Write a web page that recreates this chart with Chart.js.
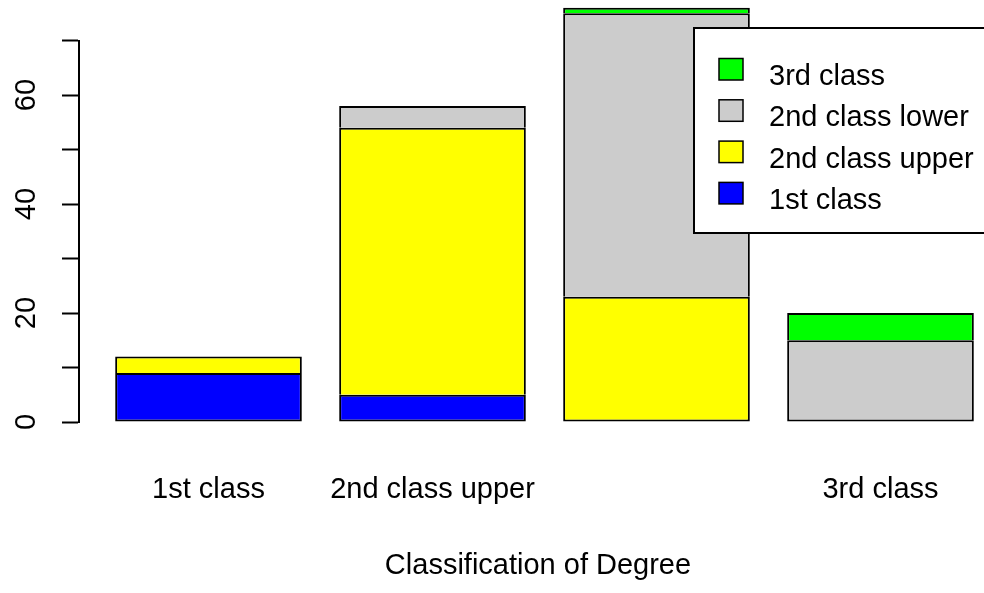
<!DOCTYPE html>
<html>
<head>
<meta charset="utf-8">
<script src="https://cdn.jsdelivr.net/npm/chart.js@4/dist/chart.umd.min.js"></script>
<style>
  html, body { margin: 0; padding: 0; background: #fff; overflow: hidden; }
  #wrap { width: 984px; height: 593px; overflow: hidden; }
</style>
</head>
<body>
<div id="wrap"><canvas id="c" width="997" height="593"></canvas></div>
<script>
// ---- data ----
const categories = ['1st class', '2nd class upper', '2nd class lower', '3rd class'];
const xTickLabels = ['1st class', '2nd class upper', '', '3rd class']; // R dropped the overlapping 3rd label
const seriesNames = ['1st class', '2nd class upper', '2nd class lower', '3rd class'];
const firstClass      = [9, 5, 0, 0];
const secondUpper     = [3, 49, 23, 0];
const secondLower     = [0, 4, 52, 15];
const thirdClass      = [0, 0, 1, 5];
const seriesColors = ['#0000FF', '#FFFF00', '#CCCCCC', '#00FF00'];
const yTickValues = [0, 10, 20, 30, 40, 50, 60, 70];
const yLabelled = [0, 20, 40, 60];
const xTitle = 'Classification of Degree';

const FONT = "'Liberation Sans', Arial, Helvetica, sans-serif";
const FS = 29;
const seriesValues = [firstClass, secondUpper, secondLower, thirdClass];

function lowestNonZero(idx) {
  for (let d = 0; d < seriesValues.length; d++) if (seriesValues[d][idx] !== 0) return d;
  return 0;
}

const datasets = seriesNames.map((name, d) => ({
  label: name,
  data: seriesValues[d].map((v, i) => ({ x: i + 1, y: v })),
  backgroundColor: seriesColors[d],
  borderColor: '#000',
  borderWidth: 2,
  borderSkipped: (ctx) => (ctx.datasetIndex === lowestNonZero(ctx.dataIndex) ? false : 'start'),
  categoryPercentage: 1,
  barPercentage: 1 / 1.2,
  clip: false
}));

const rLegend = {
  id: 'rLegend',
  afterDraw(chart) {
    const ctx = chart.ctx;
    const o = chart.options.plugins.rLegend;
    ctx.save();
    ctx.fillStyle = '#fff';
    ctx.fillRect(o.left, o.top, o.right - o.left, o.bottom - o.top);
    ctx.strokeStyle = '#000';
    ctx.lineWidth = 2;
    ctx.strokeRect(o.left, o.top, o.right - o.left, o.bottom - o.top);
    const ds = chart.data.datasets.slice().reverse();
    ctx.font = o.fontSize + 'px ' + FONT;
    ctx.textBaseline = 'alphabetic';
    ctx.textAlign = 'left';
    ds.forEach((d, i) => {
      const sy = o.swatchTop + i * o.rowStep;
      ctx.fillStyle = d.backgroundColor;
      ctx.fillRect(o.swatchX, sy, o.swatchW, o.swatchH);
      ctx.lineWidth = 1.5;
      ctx.strokeStyle = '#000';
      ctx.strokeRect(o.swatchX, sy, o.swatchW, o.swatchH);
      ctx.fillStyle = '#000';
      ctx.fillText(d.label, o.textX, o.baseline + i * o.rowStep);
    });
    ctx.restore();
  }
};

new Chart(document.getElementById('c'), {
  type: 'bar',
  data: { datasets },
  plugins: [rLegend],
  options: {
    responsive: false,
    animation: false,
    layout: { padding: { left: 0, right: 0, top: 40.5, bottom: 0 } },
    plugins: {
      legend: { display: false },
      tooltip: { enabled: false },
      rLegend: {
        left: 694, top: 28, right: 1010, bottom: 233,
        swatchX: 719, swatchW: 24, swatchH: 21.5, swatchTop: 58.5,
        textX: 769, baseline: 85, rowStep: 41.3, fontSize: FS
      }
    },
    scales: {
      x: {
        type: 'linear',
        stacked: true,
        offset: false,
        min: 1 - 129.5 / 224,
        max: 4 + 116.5 / 224,
        grid: { display: false, drawTicks: false },
        border: { display: false },
        afterBuildTicks: (s) => { s.ticks = categories.map((c, i) => ({ value: i + 1 })); },
        afterFit: (s) => { s.height = 171; s.paddingLeft = 0; s.paddingRight = 0; },
        ticks: {
          autoSkip: false,
          maxRotation: 0,
          minRotation: 0,
          padding: 50.6,
          color: '#000',
          font: { family: FONT, size: FS },
          callback: (v) => xTickLabels[Math.round(v) - 1] ?? ''
        },
        title: {
          display: true,
          text: xTitle,
          color: '#000',
          font: { family: FONT, size: FS },
          padding: { top: 0, bottom: 9.6 }
        }
      },
      y: {
        stacked: true,
        min: 0,
        max: 70,
        afterBuildTicks: (s) => { s.ticks = yTickValues.map(v => ({ value: v })); },
        afterFit: (s) => { s.width = 79; s.paddingTop = 0; s.paddingBottom = 0; },
        grid: {
          display: true,
          drawOnChartArea: false,
          drawTicks: true,
          tickLength: 17,
          tickColor: '#000',
          tickWidth: 2
        },
        border: { display: true, color: '#000', width: 2 },
        ticks: {
          minRotation: 90,
          maxRotation: 90,
          crossAlign: 'center',
          padding: 19,
          color: '#000',
          font: { family: FONT, size: FS },
          callback: (v) => (yLabelled.includes(v) ? String(v) : '')
        }
      }
    }
  }
});
</script>
</body>
</html>
